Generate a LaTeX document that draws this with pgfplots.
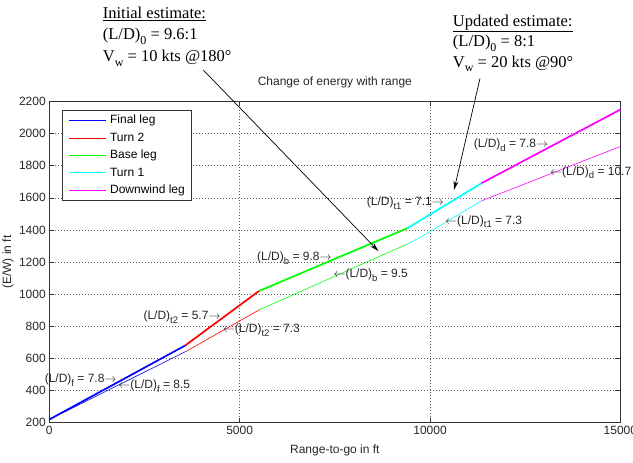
\documentclass[border=0pt]{standalone}
\usepackage{pgfplots}
\pgfplotsset{compat=1.18}
\usepackage{fontspec}
\setmainfont{Liberation Sans}
\newfontfamily\timesf{Liberation Serif}
\usetikzlibrary{arrows.meta}
\definecolor{mblue}{rgb}{0,0,1}
\definecolor{mred}{rgb}{1,0,0}
\definecolor{mgreen}{rgb}{0,1,0}
\definecolor{mcyan}{rgb}{0,1,1}
\definecolor{mmagenta}{rgb}{1,0,1}
\pgfplotsset{/pgf/number format/1000 sep={}, /pgf/number format/assume math mode=true}
\pgfplotsset{legend image code/.code={\draw[#1] (0pt,0pt) -- (37pt,0pt);}}
\newcommand{\lab}{\fontsize{12}{14}\selectfont}
\newcommand{\bigtimes}{\timesf\fontsize{16.5}{20}\selectfont}
\newcommand{\sub}[1]{\raisebox{-3.8pt}{\fontsize{9.5}{10}\selectfont #1}}
\newcommand{\tsub}[1]{\raisebox{-4.5pt}{\fontsize{12}{13}\selectfont #1}}
\begin{document}
\begin{tikzpicture}
\path[use as bounding box] (-49.3pt,-40.3pt) rectangle (583.7pt,422.7pt);
\begin{axis}[
  scale only axis, width=571.1pt, height=321.2pt,
  at={(0pt,0pt)}, anchor=south west,
  xmin=0, xmax=15000, ymin=200, ymax=2200,
  xtick={0,5000,10000,15000}, ytick={200,400,...,2200},
  scaled x ticks=false, scaled y ticks=false,
  grid=major,
  major grid style={black!65, dash pattern=on 0.8pt off 2.2pt, line width=0.5pt},
  tick align=inside, major tick length=5pt,
  tick style={black!80, line width=0.6pt},
  axis line style={line width=0.7pt, black!80},
  tick label style={font=\lab, text=black!85},
  title={Change of energy with range},
  title style={font=\lab, at={(axis description cs:0.5,1.042)}, anchor=center, text=black!85},
  xlabel={Range-to-go in ft},
  xlabel style={font=\lab, at={(axis description cs:0.5,-0.085)}, anchor=center, text=black!85},
  ylabel={(E/W) in ft},
  ylabel style={font=\lab, at={(axis description cs:-0.0723,0.5)}, anchor=center, text=black!85},
  clip=false,
  legend cell align=left,
  legend style={at={(axis description cs:0.0217,0.9735)}, anchor=north west,
    draw=black!80, line width=0.6pt, font=\lab, inner xsep=7pt, inner ysep=4pt,
    nodes={inner sep=0pt, text height=9.5pt, text depth=3pt},
    row sep=4.9pt, column sep=3.5pt},
]
% initial estimate (thin)
\addplot[mblue, line width=0.6pt] coordinates {(0,220) (3600,645)};
\addlegendentry{Final leg}
\addplot[mred, line width=0.6pt] coordinates {(3600,645) (5508,902)};
\addlegendentry{Turn 2}
\addplot[mgreen, line width=0.6pt] coordinates {(5508,902) (9388,1311)};
\addlegendentry{Base leg}
\addplot[mcyan, line width=0.6pt] coordinates {(9388,1311) (9800,1362) (11358,1582)};
\addlegendentry{Turn 1}
\addplot[mmagenta, line width=0.6pt] coordinates {(11358,1582) (15000,1920)};
\addlegendentry{Downwind leg}
% updated estimate (thick)
\addplot[mblue, line width=1.7pt, forget plot] coordinates {(0,220) (3565,680)};
\addplot[mred, line width=1.7pt, forget plot] coordinates {(3565,680) (5508,1020)};
\addplot[mgreen, line width=1.7pt, forget plot] coordinates {(5508,1020) (9404,1411)};
\addplot[mcyan, line width=1.7pt, forget plot] coordinates {(9404,1411) (11358,1692)};
\addplot[mmagenta, line width=1.7pt, forget plot] coordinates {(11358,1692) (15000,2150)};

% labels
\begin{scope}[every node/.style={font=\lab, inner sep=0pt, text=black!85}]
\node[anchor=east] at (axis cs:1770,466) {(L/D)\sub{f} = 7.8$\rightarrow$};
\node[anchor=west] at (axis cs:1812,428) {$\leftarrow$(L/D)\sub{f} = 8.5};
\node[anchor=east] at (axis cs:4502,856) {(L/D)\sub{t2} = 5.7$\rightarrow$};
\node[anchor=west] at (axis cs:4555,777) {$\leftarrow$(L/D)\sub{t2} = 7.3};
\node[anchor=east] at (axis cs:7418,1224) {(L/D)\sub{b} = 9.8$\rightarrow$};
\node[anchor=west] at (axis cs:7460,1120) {$\leftarrow$(L/D)\sub{b} = 9.5};
\node[anchor=east] at (axis cs:10368,1566) {(L/D)\sub{t1} = 7.1$\rightarrow$};
\node[anchor=west] at (axis cs:10394,1452) {$\leftarrow$(L/D)\sub{t1} = 7.3};
\node[anchor=east] at (axis cs:13107,1929) {(L/D)\sub{d} = 7.8$\rightarrow$};
\node[anchor=west] at (axis cs:13152,1757) {$\leftarrow$(L/D)\sub{d} = 10.7};
\end{scope}

% top annotations
\begin{scope}[every node/.style={font=\bigtimes, inner sep=0pt, anchor=base west}]
\node at (axis cs:1403,2718) {\underline{Initial estimate:}};
\node at (axis cs:1403,2586) {(L/D)\tsub{0} = 9.6:1};
\node at (axis cs:1403,2449) {V\tsub{w} = 10 kts @180°};
\node at (axis cs:10596,2670) {\underline{Updated estimate:}};
\node at (axis cs:10596,2542) {(L/D)\tsub{0} = 8:1};
\node at (axis cs:10596,2412) {V\tsub{w} = 20 kts @90°};
\end{scope}
\draw[-{Stealth[length=9pt,width=5pt]}, line width=0.7pt] (axis cs:4045,2396) -- (axis cs:8642,1269);
\draw[-{Stealth[length=9pt,width=5pt]}, line width=0.7pt] (axis cs:11313,2344) -- (axis cs:10630,1649);
\end{axis}
\end{tikzpicture}
\end{document}
